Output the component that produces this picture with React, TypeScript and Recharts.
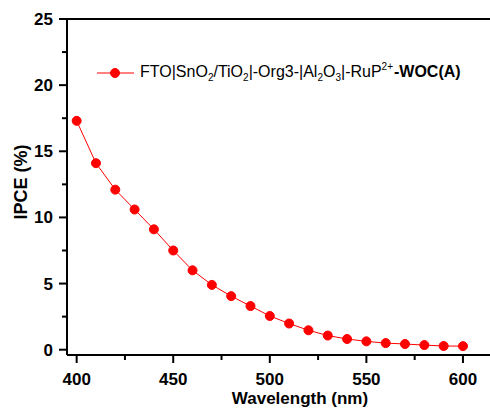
import React from 'react';
import { LineChart, Line, XAxis, YAxis, ReferenceLine, Legend, Label } from 'recharts';

const wavelengths = [400, 410, 420, 430, 440, 450, 460, 470, 480, 490, 500, 510, 520, 530, 540, 550, 560, 570, 580, 590, 600];
const ipce = [17.3, 14.1, 12.1, 10.6, 9.1, 7.5, 6.0, 4.9, 4.05, 3.3, 2.55, 1.98, 1.47, 1.07, 0.81, 0.63, 0.5, 0.43, 0.35, 0.28, 0.27];

const xMajorTicks = [400, 450, 500, 550, 600];
const xMinorTicks = [425, 475, 525, 575];
const yMajorTicks = [0, 5, 10, 15, 20, 25];
const yMinorTicks = [2.5, 7.5, 12.5, 17.5, 22.5];

const seriesName = 'FTO|SnO2/TiO2|-Org3-|Al2O3|-RuP2+-WOC(A)';

const data = wavelengths.map((w, i) => ({ wavelength: w, ipce: ipce[i] }));

const FONT = "Arial, 'Liberation Sans', sans-serif";
const RED = '#ff0000';

const XTick = (props: any) => {
  const { x, y, payload } = props;
  const major = xMajorTicks.includes(payload.value);
  return (
    <g>
      <line x1={x} x2={x} y1={y} y2={y + (major ? 8 : 5)} stroke="#000" strokeWidth={2} />
      {major && (
        <text x={x} y={y + 30} textAnchor="middle" fontSize={17} fontWeight="bold" fontFamily={FONT} fill="#000">
          {payload.value}
        </text>
      )}
    </g>
  );
};

const YTick = (props: any) => {
  const { x, y, payload } = props;
  const major = yMajorTicks.includes(payload.value);
  return (
    <g>
      <line x1={x - (major ? 8 : 5)} x2={x} y1={y} y2={y} stroke="#000" strokeWidth={2} />
      {major && (
        <text x={x - 14} y={y + 6} textAnchor="end" fontSize={17} fontWeight="bold" fontFamily={FONT} fill="#000">
          {payload.value}
        </text>
      )}
    </g>
  );
};

const subStyle: React.CSSProperties = { fontSize: 10, position: 'relative', top: 4 };
const supStyle: React.CSSProperties = { fontSize: 10, position: 'relative', top: -7, marginRight: 1 };

const renderLegend = () => (
  <div style={{ display: 'flex', alignItems: 'center', fontFamily: FONT, fontSize: 16, color: '#000', whiteSpace: 'nowrap', lineHeight: '20px' }}>
    <svg width={38} height={14} style={{ marginRight: 5 }}>
      <line x1={0} x2={37} y1={7} y2={7} stroke={RED} strokeWidth={1} />
      <circle cx={18} cy={7} r={4.5} fill={RED} stroke={RED} strokeWidth={1} />
    </svg>
    <span>
      FTO|SnO<span style={subStyle}>2</span>/TiO<span style={subStyle}>2</span>|-Org3-|Al<span style={subStyle}>2</span>O
      <span style={subStyle}>3</span>|-RuP<span style={supStyle}>2+</span>
      <b>-WOC(A)</b>
    </span>
  </div>
);

export default function App() {
  return (
    <div style={{ position: 'absolute', left: 0, top: 0, width: 490, height: 410, background: '#fff' }}>
      <LineChart width={490} height={410} data={data} margin={{ top: 19, right: 0, bottom: 54, left: 0 }}>
        <XAxis
          dataKey="wavelength"
          type="number"
          domain={[395, 614]}
          ticks={[...xMajorTicks, ...xMinorTicks].sort((a, b) => a - b)}
          tick={<XTick />}
          tickLine={false}
          tickSize={0}
          tickMargin={0}
          height={1}
          axisLine={{ stroke: '#000', strokeWidth: 2 }}
          allowDataOverflow
          interval={0}
        >
          <Label
            content={() => (
              <text x={300} y={404} textAnchor="middle" fontSize={17} fontWeight="bold" fontFamily={FONT} fill="#000">
                Wavelength (nm)
              </text>
            )}
          />
        </XAxis>
        <YAxis
          type="number"
          domain={[-0.4, 25]}
          ticks={[...yMajorTicks, ...yMinorTicks].sort((a, b) => a - b)}
          tick={<YTick />}
          tickLine={false}
          tickSize={0}
          tickMargin={0}
          width={67}
          axisLine={{ stroke: '#000', strokeWidth: 2 }}
          allowDataOverflow
          interval={0}
        >
          <Label
            content={() => (
              <text
                transform="translate(27,182) rotate(-90)"
                textAnchor="middle"
                fontSize={18}
                fontWeight="bold"
                fontFamily={FONT}
                fill="#000"
              >
                IPCE (%)
              </text>
            )}
          />
        </YAxis>
        <ReferenceLine y={25} stroke="#000" strokeWidth={2} />
        <Legend
          layout="horizontal"
          verticalAlign="middle"
          align="center"
          wrapperStyle={{ top: 62, left: 97, width: 'auto' }}
          content={renderLegend}
        />
        <Line
          type="linear"
          dataKey="ipce"
          name={seriesName}
          stroke={RED}
          strokeWidth={1}
          dot={{ r: 4.5, fill: RED, stroke: RED, strokeWidth: 1 }}
          isAnimationActive={false}
        />
      </LineChart>
    </div>
  );
}
